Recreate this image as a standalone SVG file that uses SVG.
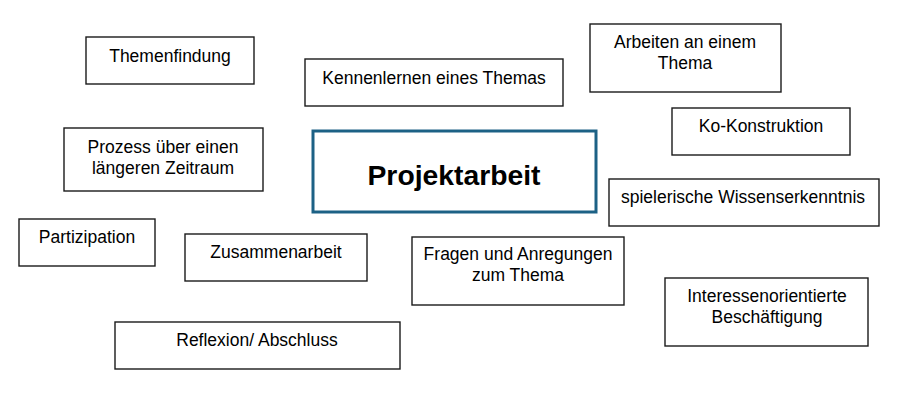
<svg xmlns="http://www.w3.org/2000/svg" width="900" height="400" viewBox="0 0 900 400">
<style>
.box{fill:#fff;stroke:#1a1a1a;stroke-width:1.4}
.main{fill:#fff;stroke:#1c6185;stroke-width:3}
.t{font-family:"Liberation Sans",Arial,sans-serif;font-size:17.5px;fill:#000;text-anchor:middle}
.tm{font-family:"Liberation Sans",Arial,sans-serif;font-size:28.3px;font-weight:bold;fill:#000;text-anchor:middle}
</style>
<rect width="900" height="400" fill="#fff"/>
<g id="connectors"></g>
<g id="n-themenfindung"><rect class="box" x="86" y="37" width="168" height="47"/><text class="t" x="170" y="62">Themenfindung</text></g>
<g id="n-kennenlernen"><rect class="box" x="305" y="59" width="258" height="47"/><text class="t" x="434" y="84">Kennenlernen eines Themas</text></g>
<g id="n-arbeiten"><rect class="box" x="590" y="24" width="191" height="68"/><text class="t" x="685" y="48">Arbeiten an einem</text><text class="t" x="685" y="69">Thema</text></g>
<g id="n-ko"><rect class="box" x="672" y="108" width="178" height="47"/><text class="t" x="761" y="132">Ko-Konstruktion</text></g>
<g id="n-prozess"><rect class="box" x="64" y="128" width="199" height="63"/><text class="t" x="163" y="153">Prozess über einen</text><text class="t" x="163" y="174">längeren Zeitraum</text></g>
<g id="n-projektarbeit"><rect class="main" x="313" y="131" width="283" height="81"/><text class="tm" x="454" y="185">Projektarbeit</text></g>
<g id="n-spielerisch"><rect class="box" x="609" y="179" width="270" height="47"/><text class="t" x="743" y="203">spielerische Wissenserkenntnis</text></g>
<g id="n-partizipation"><rect class="box" x="19" y="219" width="136" height="47"/><text class="t" x="87" y="243">Partizipation</text></g>
<g id="n-zusammenarbeit"><rect class="box" x="185" y="234" width="182" height="47"/><text class="t" x="276" y="258">Zusammenarbeit</text></g>
<g id="n-fragen"><rect class="box" x="412" y="237" width="212" height="68"/><text class="t" x="518" y="260">Fragen und Anregungen</text><text class="t" x="518" y="281">zum Thema</text></g>
<g id="n-interesse"><rect class="box" x="665" y="278" width="203" height="68"/><text class="t" x="767" y="302">Interessenorientierte</text><text class="t" x="767" y="323">Beschäftigung</text></g>
<g id="n-reflexion"><rect class="box" x="115" y="322" width="285" height="47"/><text class="t" x="257" y="346">Reflexion/ Abschluss</text></g>
</svg>
